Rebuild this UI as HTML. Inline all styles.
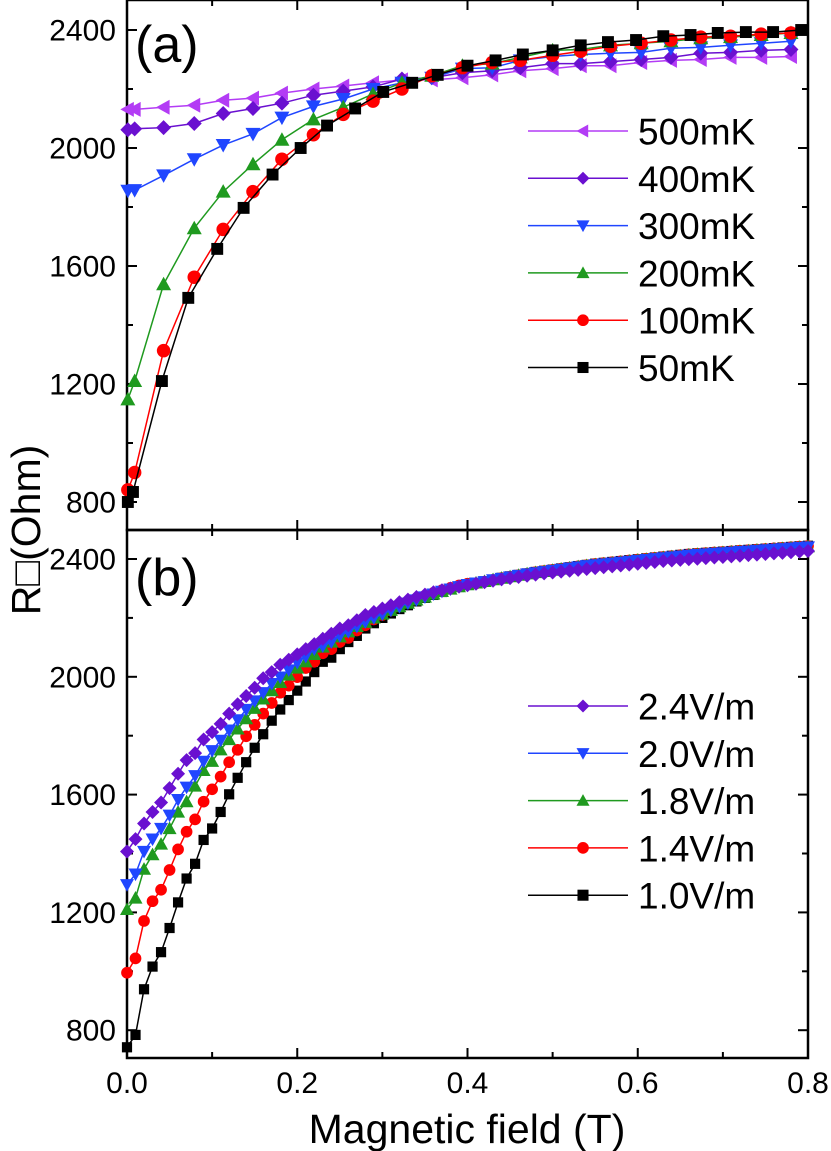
<!DOCTYPE html>
<html><head><meta charset="utf-8"><style>
html,body{margin:0;padding:0;background:#fff;}
svg{display:block;font-family:"Liberation Sans",Arial,sans-serif;}
</style></head><body>
<svg id="chart" width="831" height="1151" viewBox="0 0 831 1151" xmlns="http://www.w3.org/2000/svg"></svg>
<script>
// ---- Panel (a) data ----
const aX50 = [0.001,0.007,0.041,0.072,0.106,0.137,0.171,0.204,0.235,0.268,0.301,0.335,0.365,0.40,0.433,0.465,0.5,0.533,0.565,0.598,0.63,0.662,0.694,0.727,0.759,0.792];
const aY50 = [800,834,1210,1492,1658,1797,1910,2000,2076,2134,2190,2221,2248,2279,2297,2317,2331,2348,2359,2366,2379,2383,2390,2393,2393,2400];
const aX = [0.001,0.009,0.043,0.079,0.113,0.148,0.182,0.219,0.254,0.289,0.323,0.358,0.394,0.429,0.462,0.5,0.533,0.568,0.604,0.639,0.674,0.709,0.745,0.78];
const aY100 = [841,900,1313,1562,1724,1852,1962,2045,2114,2159,2200,2245,2272,2290,2297,2314,2328,2345,2355,2366,2376,2379,2386,2390];
const aY200 = [1148,1210,1538,1728,1852,1945,2028,2097,2138,2183,2221,2245,2279,2286,2307,2331,2334,2348,2355,2362,2372,2376,2383,2390];
const aY300 = [1855,1857,1907,1962,2010,2048,2103,2141,2166,2200,2221,2238,2269,2272,2297,2310,2317,2321,2324,2338,2341,2348,2355,2362];
const aY400 = [2062,2065,2069,2083,2117,2134,2152,2179,2193,2207,2234,2238,2255,2262,2272,2286,2286,2293,2300,2307,2321,2324,2331,2334];
const aY500 = [2131,2131,2138,2145,2162,2169,2186,2200,2210,2221,2231,2231,2238,2248,2262,2269,2279,2279,2290,2297,2300,2307,2307,2310];
const aLabels = ["500mK","400mK","300mK","200mK","100mK","50mK"];

// ---- Panel (b) data ----
const bX = [0,0.01,0.02,0.03,0.04,0.05,0.06,0.07,0.08,0.09,0.10,0.11,0.12,0.13,0.14,0.15,0.16,0.17,0.18,0.19,0.20,0.21,0.22,0.23,0.24,0.25,0.26,0.27,0.28,0.29,0.30,0.31,0.32,0.33,0.34,0.35,0.36,0.37,0.38,0.39,0.40,0.41,0.42,0.43,0.44,0.45,0.46,0.47,0.48,0.49,0.50,0.51,0.52,0.53,0.54,0.55,0.56,0.57,0.58,0.59,0.60,0.61,0.62,0.63,0.64,0.65,0.66,0.67,0.68,0.69,0.70,0.71,0.72,0.73,0.74,0.75,0.76,0.77,0.78,0.79,0.80];
const bY10 = [742,784,939,1016,1065,1147,1234,1315,1365,1446,1485,1541,1601,1657,1710,1759,1805,1851,1889,1921,1953,1984,2016,2051,2065,2094,2118,2139,2164,2182,2200,2215,2230,2243,2256,2268,2278,2288,2297,2305,2312,2318,2324,2330,2336,2341,2346,2351,2356,2360,2364,2368,2372,2376,2380,2384,2387,2390,2393,2396,2399,2402,2405,2408,2411,2414,2417,2419,2421,2423,2425,2427,2429,2431,2433,2435,2437,2439,2441,2443,2445];
const bY14 = [995,1044,1171,1238,1277,1344,1414,1474,1516,1576,1618,1661,1710,1752,1798,1837,1875,1911,1946,1970,1999,2030,2051,2080,2094,2118,2132,2157,2175,2195,2210,2225,2240,2253,2265,2275,2285,2294,2302,2310,2316,2317,2323,2329,2335,2340,2345,2350,2355,2359,2363,2367,2371,2375,2379,2383,2386,2389,2392,2395,2398,2401,2404,2407,2410,2413,2416,2418,2420,2422,2424,2426,2428,2430,2432,2434,2436,2438,2440,2442,2444];
const bY18 = [1210,1249,1347,1396,1432,1485,1541,1576,1629,1682,1713,1752,1787,1823,1858,1893,1925,1953,1981,2006,2030,2051,2076,2101,2118,2136,2153,2171,2185,2200,2213,2226,2238,2250,2261,2271,2281,2290,2298,2306,2313,2319,2324,2330,2335,2340,2345,2350,2354,2358,2362,2366,2370,2374,2378,2381,2384,2387,2390,2393,2396,2399,2402,2405,2408,2411,2414,2416,2418,2420,2422,2424,2426,2428,2430,2432,2434,2436,2438,2440,2442];
const bY20 = [1294,1330,1407,1449,1485,1530,1583,1625,1664,1713,1749,1784,1819,1854,1889,1918,1946,1977,1999,2023,2048,2069,2094,2104,2118,2139,2153,2171,2186,2200,2213,2226,2238,2250,2261,2271,2281,2290,2298,2306,2313,2318,2323,2329,2334,2339,2344,2349,2353,2357,2361,2365,2369,2373,2377,2380,2383,2386,2389,2392,2395,2398,2401,2404,2407,2410,2413,2415,2417,2419,2421,2423,2425,2427,2429,2431,2433,2435,2437,2439,2441];
const bY24 = [1407,1449,1502,1541,1573,1622,1671,1717,1741,1787,1812,1840,1875,1907,1935,1963,1995,2016,2041,2058,2076,2094,2111,2129,2146,2164,2175,2192,2210,2220,2232,2243,2253,2262,2271,2279,2287,2294,2300,2306,2311,2316,2321,2326,2331,2335,2339,2343,2347,2351,2354,2357,2360,2363,2366,2369,2372,2375,2378,2381,2384,2387,2390,2393,2395,2397,2399,2401,2403,2405,2407,2409,2411,2413,2415,2417,2419,2421,2423,2425,2427];
const bLabels = ["2.4V/m","2.0V/m","1.8V/m","1.4V/m","1.0V/m"];
const yTicks = [800,1200,1600,2000,2400];
const xTicks = [0.0,0.2,0.4,0.6,0.8];
const xTickLabels = ["0.0","0.2","0.4","0.6","0.8"];

const C = {black:"#000000",red:"#ff0000",green:"#1f9a1f",blue:"#2046ff",purple:"#6a10d0",magenta:"#b33cf5"};
const svg = document.getElementById('chart');
const NS = "http://www.w3.org/2000/svg";
function mk(tag, attrs, parent){ const e=document.createElementNS(NS,tag); for(const k in attrs) e.setAttribute(k,attrs[k]); (parent||svg).appendChild(e); return e; }

const X0=127, X1=808;
const sx = v => X0 + (v/0.8)*(X1-X0);
const panA = {top:0, bot:530, sy: v => 30 + (2400-v)*0.295};
const panB = {top:530, bot:1058, sy: v => 559 + (2400-v)*0.2945};

function marker(g, shape, x, y, s, col){
  const h=s/2; let e;
  if(shape==='square') e=mk('rect',{x:x-h*0.85,y:y-h*0.85,width:s*0.85,height:s*0.85,fill:col},g);
  else if(shape==='circle') e=mk('circle',{cx:x,cy:y,r:h*0.9,fill:col},g);
  else if(shape==='up') e=mk('polygon',{points:`${x},${y-h} ${x+h},${y+h*0.8} ${x-h},${y+h*0.8}`,fill:col},g);
  else if(shape==='down') e=mk('polygon',{points:`${x},${y+h} ${x+h},${y-h*0.8} ${x-h},${y-h*0.8}`,fill:col},g);
  else if(shape==='diamond') e=mk('polygon',{points:`${x},${y-h} ${x+h},${y} ${x},${y+h} ${x-h},${y}`,fill:col},g);
  else if(shape==='left') e=mk('polygon',{points:`${x-h},${y} ${x+h*0.8},${y-h} ${x+h*0.8},${y+h}`,fill:col},g);
  
  
}

function series(pan, name, xs, ys, col, shape, s){
  const g=mk('g',{});
  
  
  const pts=xs.map((x,i)=>sx(x).toFixed(1)+','+pan.sy(ys[i]).toFixed(1)).join(' ');
  const pl=mk('polyline',{points:pts,fill:'none',stroke:col,'stroke-width':1.5},g);
  
  
  xs.forEach((x,i)=>marker(g,shape,sx(x),pan.sy(ys[i]),s,col));
}

function axes(pan, id, showX){
  const g=mk('g',{});
  
  
  const f=mk('rect',{x:X0,y:pan.top,width:X1-X0,height:pan.bot-pan.top,fill:'none',stroke:'#000','stroke-width':2.5},g);
  
  
  for(let v=800; v<=2400; v+=200){
    const y=pan.sy(v); const L=(v%400===0)?10:6;
    mk('line',{x1:X0,y1:y,x2:X0+L,y2:y,stroke:'#000','stroke-width':2},g);
    mk('line',{x1:X1,y1:y,x2:X1-L,y2:y,stroke:'#000','stroke-width':2},g);
  }
  yTicks.forEach(v=>{
    const t=mk('text',{x:X0-11,y:pan.sy(v)+10.5,'text-anchor':'end','font-size':30,fill:'#000'},g);
    t.textContent=v;
    
    
  });
  for(let k=0;k<=8;k++){
    const x=sx(k*0.1); const L=(k%2===0)?10:6;
    mk('line',{x1:x,y1:pan.bot,x2:x,y2:pan.bot-L,stroke:'#000','stroke-width':2},g);
    mk('line',{x1:x,y1:pan.top,x2:x,y2:pan.top+L,stroke:'#000','stroke-width':2},g);
  }
  if(showX){
    xTicks.forEach((v,i)=>{
      const t=mk('text',{x:sx(v),y:1093,'text-anchor':'middle','font-size':30,fill:'#000'},g);
      t.textContent=xTickLabels[i];
      
      
    });
  }
}

function legend(id, labels, cols, shapes, y0, s){
  const g=mk('g',{});
  
  
  labels.forEach((lab,i)=>{
    const y=y0+i*47.3;
    mk('line',{x1:528,y1:y,x2:628,y2:y,stroke:cols[i],'stroke-width':1.5},g);
    marker(g,shapes[i],583,y,s,cols[i]);
    const t=mk('text',{x:638,y:y+13.5,'font-size':37,fill:'#000'},g);
    t.textContent=lab;
    
    
  });
}

axes(panA,'panel-a',false);
axes(panB,'panel-b',true);

series(panA,'series-500mK',aX,aY500,C.magenta,'left',15);
series(panA,'series-400mK',aX,aY400,C.purple,'diamond',15);
series(panA,'series-300mK',aX,aY300,C.blue,'down',15);
series(panA,'series-200mK',aX,aY200,C.green,'up',15);
series(panA,'series-100mK',aX,aY100,C.red,'circle',15);
series(panA,'series-50mK',aX50,aY50,C.black,'square',14);

series(panB,'series-1.0Vm',bX,bY10,C.black,'square',12);
series(panB,'series-1.4Vm',bX,bY14,C.red,'circle',13);
series(panB,'series-1.8Vm',bX,bY18,C.green,'up',14);
series(panB,'series-2.0Vm',bX,bY20,C.blue,'down',14);
series(panB,'series-2.4Vm',bX,bY24,C.purple,'diamond',14);

legend('legend-a',aLabels,[C.magenta,C.purple,C.blue,C.green,C.red,C.black],['left','diamond','down','up','circle','square'],131,13);
legend('legend-b',bLabels,[C.purple,C.blue,C.green,C.red,C.black],['diamond','down','up','circle','square'],706,13);

const la=mk('text',{x:135,y:62,'font-size':52,fill:'#000'}); la.textContent='(a)';


const lb=mk('text',{x:135,y:595,'font-size':52,fill:'#000'}); lb.textContent='(b)';



const xl=mk('text',{x:467,y:1143,'text-anchor':'middle','font-size':41,fill:'#000'}); xl.textContent='Magnetic field (T)';


const yl=mk('text',{x:0,y:0,'text-anchor':'middle','font-size':41,fill:'#000',transform:'translate(40,530) rotate(-90)'});
yl.textContent='R□(Ohm)';


</script>
</body></html>
